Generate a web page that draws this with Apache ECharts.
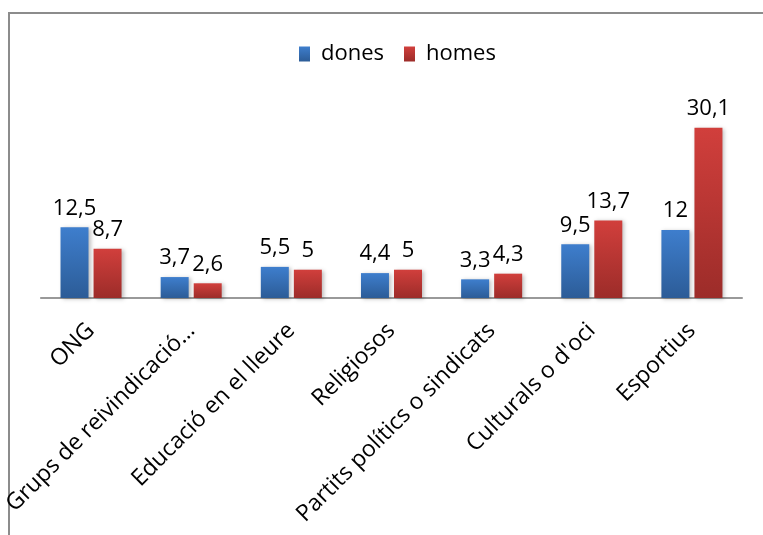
<!DOCTYPE html>
<html>
<head>
<meta charset="utf-8">
<script src="https://cdn.jsdelivr.net/npm/echarts@6/dist/echarts.min.js"></script>
<style>
  html, body { margin: 0; padding: 0; background: #fff; }
  #chart { width: 763px; height: 535px; }
</style>
</head>
<body>
<div id="chart"></div>
<script>
const categories = ['ONG', 'Grups de reivindicació…', 'Educació en el lleure', 'Religiosos',
  'Partits polítics o sindicats', "Culturals o d'oci", 'Esportius'];
const dones = [12.5, 3.7, 5.5, 4.4, 3.3, 9.5, 12];
const homes = [8.7, 2.6, 5, 5, 4.3, 13.7, 30.1];

const font = 'Open Sans';
const chart = echarts.init(document.getElementById('chart'));

const grad = (top, bottom) => new echarts.graphic.LinearGradient(0, 0, 0, 1, [
  { offset: 0, color: top },
  { offset: 1, color: bottom }
]);

const fmt = p => String(p.value).replace('.', ',');

const label = {
  show: true,
  position: 'top',
  distance: 8,
  formatter: fmt,
  color: '#000',
  fontFamily: font,
  fontSize: 22
};

chart.setOption({
  animation: false,
  graphic: [{
    type: 'polyline',
    shape: { points: [[9, 535], [9, 13], [763, 13]] },
    style: { stroke: '#8c8c8c', lineWidth: 2, fill: null }
  }],
  legend: {
    top: 38,
    left: 294,
    icon: 'rect',
    itemWidth: 11,
    itemHeight: 15,
    itemGap: 20,
    textStyle: { fontFamily: font, fontSize: 22, color: '#000', padding: [0, 0, 0, 6] },
    data: ['dones', 'homes']
  },
  grid: { left: 40, right: 21, top: 100, bottom: 237 },
  xAxis: {
    type: 'category',
    data: categories,
    axisLine: { lineStyle: { color: '#999', width: 2 } },
    axisTick: { show: false },
    axisLabel: {
      rotate: 45,
      interval: 0,
      margin: 29,
      color: '#000',
      fontFamily: font,
      fontSize: 23
    }
  },
  yAxis: { type: 'value', min: 0, max: 35, show: false, splitLine: { show: false } },
  series: [
    {
      name: 'dones',
      type: 'bar',
      data: dones,
      barWidth: 28,
      barGap: '18%',
      itemStyle: {
        color: grad('#3e7ecd', '#2c5c97'),
        shadowColor: 'rgba(0,0,0,0.25)',
        shadowBlur: 4,
        shadowOffsetX: 2,
        shadowOffsetY: 1
      },
      label
    },
    {
      name: 'homes',
      type: 'bar',
      data: homes,
      barWidth: 28,
      itemStyle: {
        color: grad('#d13f3c', '#9c2c29'),
        shadowColor: 'rgba(0,0,0,0.25)',
        shadowBlur: 4,
        shadowOffsetX: 2,
        shadowOffsetY: 1
      },
      label
    }
  ]
});
</script>
</body>
</html>
